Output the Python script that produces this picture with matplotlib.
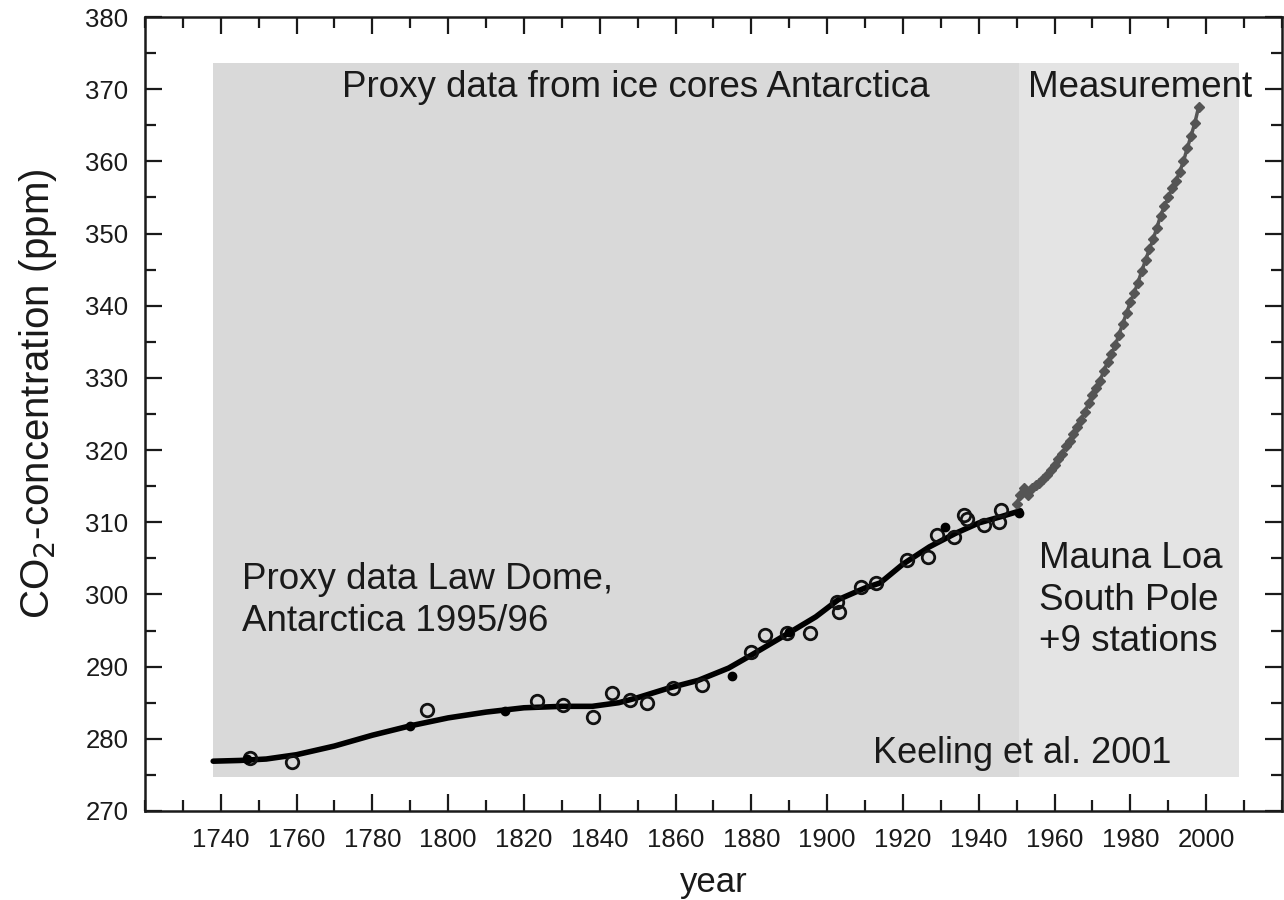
import matplotlib
matplotlib.use("Agg")
import matplotlib.pyplot as plt
from matplotlib.ticker import MultipleLocator

plt.rcParams['font.family'] = ['Liberation Sans', 'DejaVu Sans']

# Smoothed ice-core spline (Law Dome)
line_years = [1738, 1745, 1752, 1760, 1770, 1780, 1790, 1800, 1810, 1820, 1830, 1838,
              1845, 1850, 1858, 1866, 1874, 1880, 1890, 1897, 1903, 1910, 1914, 1920,
              1927, 1934, 1940, 1946, 1951]
line_ppm = [276.9, 277.0, 277.2, 277.8, 279.0, 280.5, 281.8, 282.9, 283.7, 284.3, 284.5, 284.5,
            285.0, 285.7, 287.0, 288.1, 289.8, 291.6, 294.7, 296.9, 299.3, 300.9, 301.6, 304.2,
            306.6, 308.5, 309.9, 310.8, 311.6]

# Individual ice-core samples (open markers)
sample_years = [1747.7, 1758.8, 1794.4, 1823.5, 1830.4, 1838.3, 1843.3, 1848.0, 1852.5, 1859.4,
                1867.0, 1879.8, 1883.7, 1889.5, 1895.6, 1902.5, 1903.0, 1908.8, 1913.0, 1921.0,
                1926.5, 1929.0, 1933.4, 1936.0, 1937.0, 1941.3, 1945.3, 1945.8]
sample_ppm = [277.4, 276.8, 284.0, 285.2, 284.7, 283.0, 286.3, 285.4, 285.0, 287.0,
              287.5, 292.0, 294.4, 294.6, 294.6, 299.0, 297.5, 301.0, 301.6, 304.8,
              305.2, 308.2, 308.0, 311.0, 310.5, 309.6, 310.0, 311.7]

# Filled ice-core samples
filled_years = [1747.0, 1790.0, 1815.0, 1875.0, 1890.0, 1931.0, 1950.6]
filled_ppm = [277.2, 281.8, 283.8, 288.7, 294.8, 309.3, 311.3]

# Atmospheric measurements (Mauna Loa, South Pole + stations)
meas_years = list(range(1950, 1999))
meas_ppm = [312.5, 313.8, 314.8, 313.8, 314.8, 315.2, 315.5, 316.0, 316.6, 317.3,
            318.0, 318.7, 319.5, 320.5, 321.3, 322.2, 323.2, 324.2, 325.3, 326.5,
            327.6, 328.6, 329.6, 331.0, 332.2, 333.3, 334.5, 336.0, 337.5, 339.0,
            340.5, 341.8, 343.2, 344.8, 346.3, 347.8, 349.2, 350.8, 352.5, 353.8,
            355.0, 356.3, 357.3, 358.5, 360.0, 361.8, 363.5, 365.3, 367.5]

major_xticks = list(range(1740, 2001, 20))

fig = plt.figure(figsize=(12.84, 9.0), dpi=100)
ax = fig.add_axes([0.1129, 0.0989, 0.8855, 0.8822])

ax.set_xlim(1720, 2020)
ax.set_ylim(270, 380)

# shaded regions
ax.fill_between([1737.9, 1950.6], 274.7, 373.6, color='#d9d9d9', lw=0, zorder=0)
ax.fill_between([1950.6, 2008.7], 274.7, 373.6, color='#e4e4e4', lw=0, zorder=0)

ax.plot(line_years, line_ppm, color='black', lw=4.0, solid_capstyle='round', zorder=3)
ax.plot(sample_years, sample_ppm, ls='none', marker='o', ms=9, mfc='none',
        mec='#111111', mew=2.0, zorder=4)
ax.plot(filled_years, filled_ppm, ls='none', marker='o', ms=6, color='black', zorder=4)
ax.plot(meas_years, meas_ppm, color='#555555', lw=2.5, marker='D', ms=5,
        mfc='#555555', mec='#555555', zorder=3)

ax.set_xticks(major_xticks)
ax.xaxis.set_minor_locator(MultipleLocator(10))
ax.yaxis.set_major_locator(MultipleLocator(10))
ax.yaxis.set_minor_locator(MultipleLocator(5))
ax.tick_params(which='both', direction='in', top=True, right=True, width=1.6,
               labelsize=18.5, colors='#1a1a1a')
ax.tick_params(which='major', length=12, pad=12)
ax.tick_params(which='minor', length=8)
for s in ax.spines.values():
    s.set_linewidth(1.8)
    s.set_color('#1a1a1a')

ax.set_xlabel('year', fontsize=25, color='#1a1a1a', labelpad=10)
ax.set_ylabel('CO$_2$-concentration (ppm)', fontsize=29, color='#1a1a1a', va='center')
ax.yaxis.set_label_coords(-0.094, 0.526)

tc = '#1a1a1a'
fs = 26.5
ax.text(1849.6, 370.3, 'Proxy data from ice cores Antarctica', fontsize=fs,
        ha='center', va='center', color=tc)
ax.text(1953.0, 370.3, 'Measurement', fontsize=fs, ha='left', va='center', color=tc)
ax.text(1745.5, 299.2, 'Proxy data Law Dome,\nAntarctica 1995/96', fontsize=fs,
        ha='left', va='center', color=tc, linespacing=1.26)
ax.text(1955.8, 299.2, 'Mauna Loa\nSouth Pole\n+9 stations', fontsize=fs,
        ha='left', va='center', color=tc, linespacing=1.24)
ax.text(1912.0, 278.0, 'Keeling et al. 2001', fontsize=26, ha='left', va='center', color=tc)

fig.savefig('out.png', dpi=100)
